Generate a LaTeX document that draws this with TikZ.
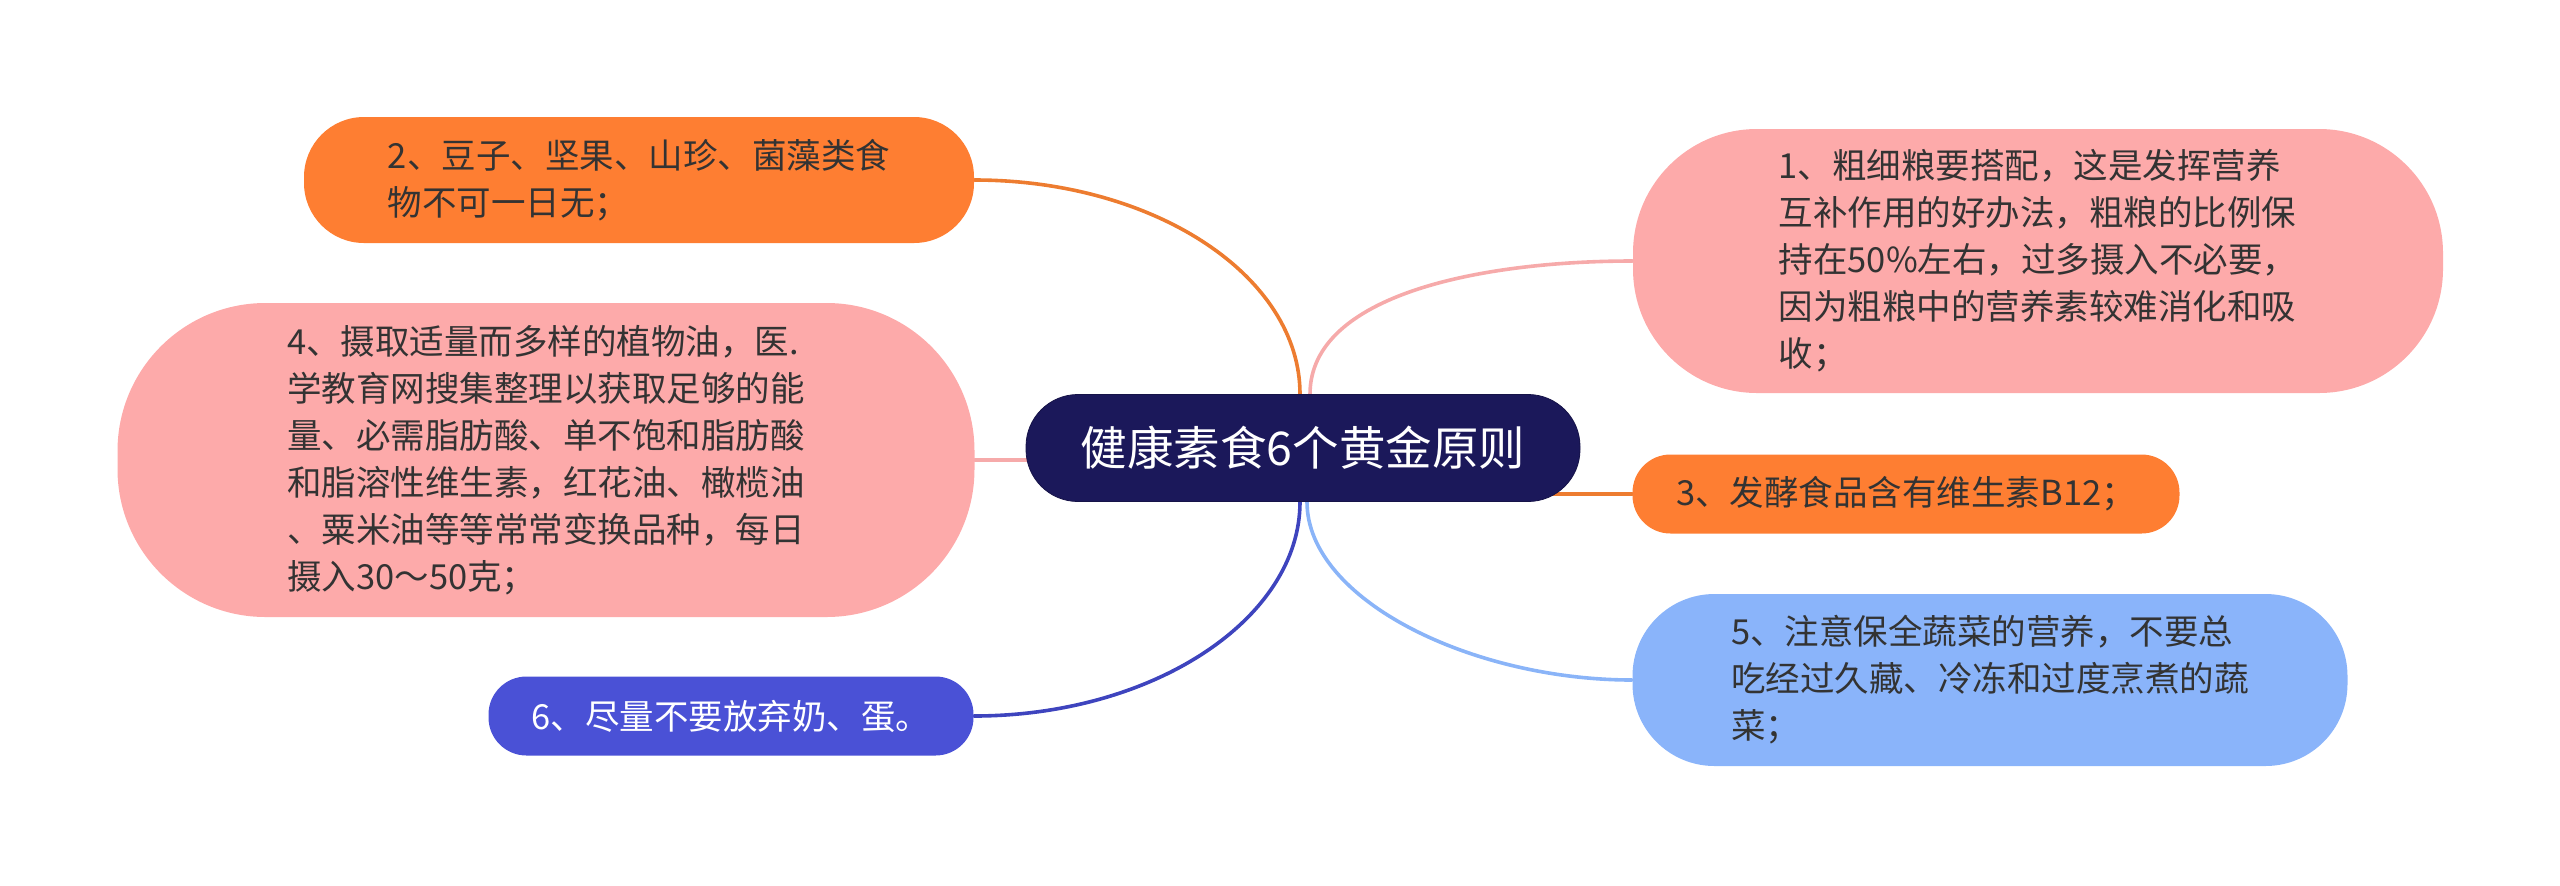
\documentclass[tikz,border=0pt]{standalone}
\usepackage{fontspec}
\usepackage{tikz}
\newfontfamily\cjk{Noto Sans CJK SC}
\pgfdeclarelayer{background}
\pgfsetlayers{background,main}

\definecolor{navyfill}{RGB}{27,24,90}
\definecolor{orangefill}{RGB}{254,126,50}
\definecolor{pinkfill}{RGB}{253,170,170}
\definecolor{skyfill}{RGB}{138,180,250}
\definecolor{bluefill}{RGB}{74,81,214}
\definecolor{orangeline}{RGB}{237,124,48}
\definecolor{pinkline}{RGB}{246,170,170}
\definecolor{skyline}{RGB}{138,180,248}
\definecolor{blueline}{RGB}{62,68,190}
\definecolor{textgrey}{RGB}{51,51,51}

\begin{document}
\begin{tikzpicture}[x=0.5pt,y=-0.5pt,
  topic/.style={inner sep=0pt, align=left, text=textgrey,
    font=\cjk\fontsize{17.25}{23.5}\selectfont},
  link/.style={line width=1.8pt, line cap=round}]
\useasboundingbox (0,0) rectangle (2560,885);

\node[topic, fill=navyfill, draw=navyfill!80!black, text=white, minimum width=277pt, minimum height=53.5pt,
  rounded corners=26pt, font=\cjk\fontsize{23.25}{28}\selectfont] (c) at (1303,448) {健康素食6个黄金原则};

\node[topic, fill=pinkfill, minimum width=405pt, minimum height=132pt, rounded corners=62pt] (n1) at (2038,261)
  {1、粗细粮要搭配，这是发挥营养\\互补作用的好办法，粗粮的比例保\\持在50\%左右，过多摄入不必要，\\因为粗粮中的营养素较难消化和吸\\收；};
\node[topic, fill=orangefill, minimum width=335pt, minimum height=63pt, rounded corners=30pt] (n2) at (639,180)
  {2、豆子、坚果、山珍、菌藻类食\\物不可一日无；};
\node[topic, fill=orangefill, minimum width=273.5pt, minimum height=39.5pt, rounded corners=19pt] (n3) at (1906,494)
  {3、发酵食品含有维生素B12；};
\node[topic, fill=pinkfill, minimum width=428.5pt, minimum height=157pt, rounded corners=74pt] (n4) at (546,460)
  {4、摄取适量而多样的植物油，医.\\学教育网搜集整理以获取足够的能\\量、必需脂肪酸、单不饱和脂肪酸\\和脂溶性维生素，红花油、橄榄油\\、粟米油等等常常变换品种，每日\\摄入30～50克；};
\node[topic, fill=skyfill, minimum width=357.5pt, minimum height=86pt, rounded corners=41pt] (n5) at (1990,680)
  {5、注意保全蔬菜的营养，不要总\\吃经过久藏、冷冻和过度烹煮的蔬\\菜；};
\node[topic, fill=bluefill, text=white, minimum width=242.5pt, minimum height=39.5pt, rounded corners=19pt] (n6) at (731,716)
  {6、尽量不要放弃奶、蛋。};

\begin{pgfonlayer}{background}
\path[link, draw=orangeline] ([xshift=-1.5pt]c.north) .. controls +(0,-118) and +(180,0) .. (n2.east);
\path[link, draw=pinkline] ([xshift=3.5pt]c.north) .. controls +(0,-100) and +(-150,0) .. (n1.west);
\path[link, draw=pinkline] (n4.east) -- (n4.east -| c.center);
\path[link, draw=orangeline] (n3.west) -- (n3.west -| c.center);
\path[link, draw=blueline] ([xshift=-1.5pt]c.south) .. controls +(0,117) and +(179,0) .. (n6.east);
\path[link, draw=skyline] ([xshift=2pt]c.south) .. controls +(0,98) and +(-160,0) .. (n5.west);
\end{pgfonlayer}
\end{tikzpicture}
\end{document}
